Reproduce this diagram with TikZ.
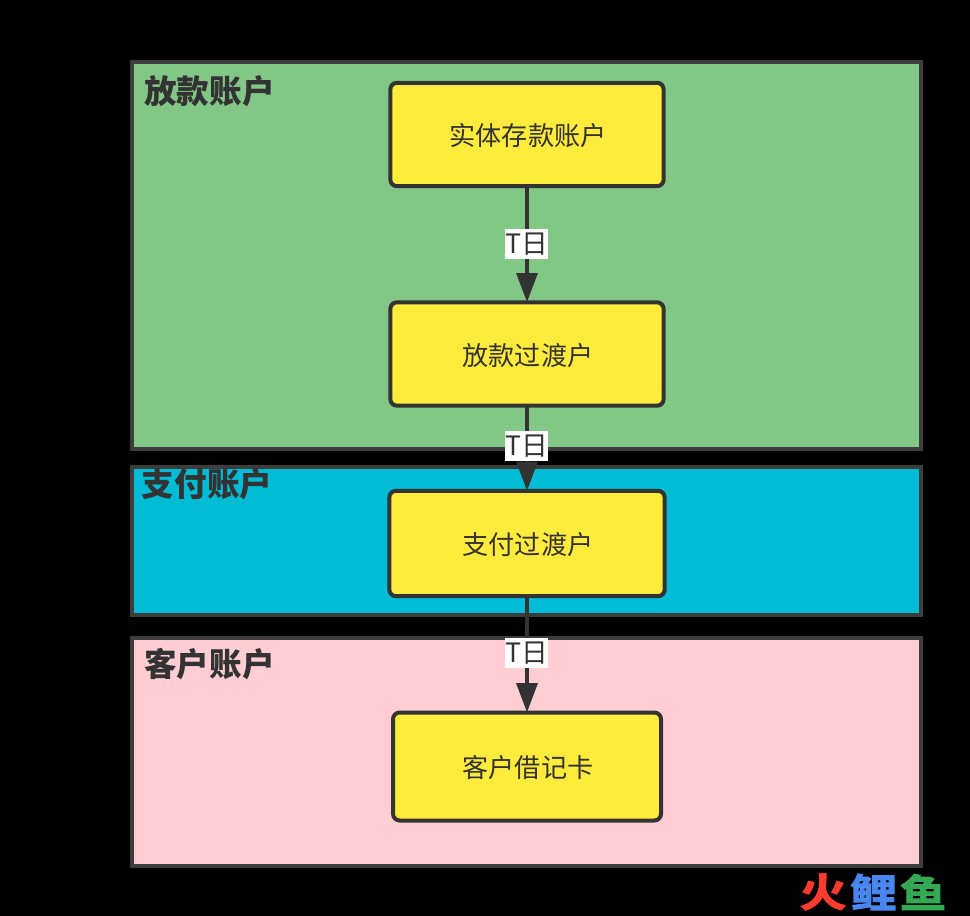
\documentclass[tikz,border=0pt]{standalone}
\usepackage{fontspec}
\setmainfont{Noto Sans CJK SC}
\newfontfamily\brandfont[FakeBold=2.5]{Noto Sans CJK SC Bold}
\usetikzlibrary{arrows.meta}
\definecolor{inkgray}{HTML}{333333}
\definecolor{framegray}{HTML}{3D3D3D}
\definecolor{loangreen}{HTML}{82C785}
\definecolor{paycyan}{HTML}{00BCD4}
\definecolor{custpink}{HTML}{FFCDD2}
\definecolor{boxyellow}{HTML}{FFEB3B}
\definecolor{brandred}{HTML}{FF3B30}
\definecolor{brandblue}{HTML}{4A86F0}
\definecolor{brandgreen}{HTML}{34A853}
\tikzset{
    panel/.style={draw=framegray, line width=3pt},
    acct/.style={draw=inkgray, fill=boxyellow, line width=3pt, rounded corners=5pt,
        text=inkgray, font=\fontsize{19.6}{19.6}\selectfont, inner sep=0pt, outer sep=0pt,
        text depth=-3pt},
    title/.style={text=inkgray, font=\fontsize{24.4}{24.4}\selectfont\bfseries, inner sep=0pt},
    flow/.style={draw=inkgray, line width=3.2pt, -{Triangle[length=22pt, width=15.5pt]}},
    day/.style={fill=white, text=inkgray, font=\fontsize{20}{20}\selectfont, inner sep=0pt,
        minimum width=30.5pt, minimum height=23pt},
    brand/.style={font=\fontsize{35}{35}\brandfont, inner sep=0pt, yscale=0.84, transform shape},
}
\begin{document}
\begin{tikzpicture}[x=0.75pt, y=-0.75pt]
    \fill [black] (0, 0) rectangle (970, 916);
    \useasboundingbox (0, 0) rectangle (970, 916);
    % panels
    \draw [panel, fill=loangreen] (132, 62) rectangle (921, 449);
    \draw [panel, fill=paycyan] (132, 467) rectangle (921, 615);
    \draw [panel, fill=custpink] (132, 638) rectangle (921, 866);
    \node [title] (loantitle) at (209.5, 91) {放款账户};
    \node [title] (paytitle) at (207, 484) {支付账户};
    \node [title] (custtitle) at (209.5, 664) {客户账户};
    % accounts
    \node [acct, minimum width=205pt, minimum height=77.5pt] (deposit) at (527, 134.5) {\hspace{1.5pt}实体存款账户};
    \node [acct, minimum width=205pt, minimum height=77.5pt] (loan) at (527, 354) {\hspace{1.5pt}放款过渡户};
    \node [acct, minimum width=206.5pt, minimum height=79pt] (pay) at (527, 543.5) {\hspace{1.5pt}支付过渡户};
    \node [acct, minimum width=201pt, minimum height=81pt] (debit) at (527, 766.5) {\hspace{1.5pt}客户借记卡};
    % flows
    \draw [flow] (deposit) -- (loan);
    \draw [flow] (loan) -- (pay);
    \draw [flow] (pay) -- (debit);
    \node [day] (dayone) at (526.5, 244) {T日};
    \node [day] (daytwo) at (526.5, 446) {T日};
    \node [day] (daythree) at (526.5, 653) {T日};
    %% brand
    \node [brand, text=brandred] (brandfire) at (823, 892) {火};
    \node [brand, text=brandblue] (brandcarp) at (873.5, 892) {鲤};
    \node [brand, text=brandgreen] (brandfish) at (923, 892) {鱼};
\end{tikzpicture}
\end{document}
